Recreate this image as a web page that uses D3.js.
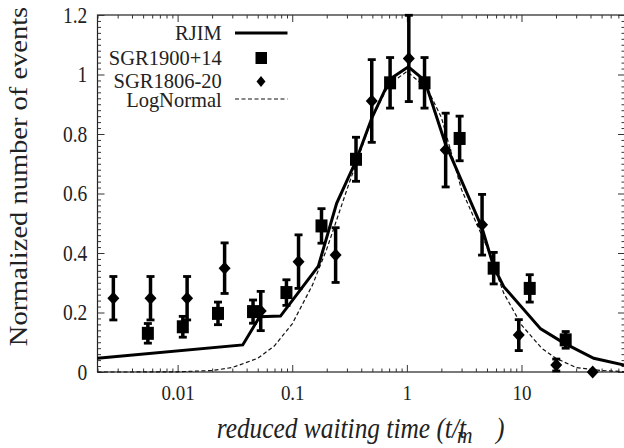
<!DOCTYPE html>
<html>
<head>
<meta charset="utf-8">
<script src="https://cdn.jsdelivr.net/npm/d3@7/dist/d3.min.js"></script>
<style>
  html, body { margin: 0; padding: 0; background: #fff; }
  svg { display: block; }
  text { font-family: "Liberation Serif", "Times New Roman", "DejaVu Serif"; fill: #222; }
</style>
</head>
<body>
<svg id="chart" width="624" height="448"></svg>
<script>
// ---------------- data ----------------
const sgr1900X   = [0.0055, 0.0111, 0.0225, 0.0455, 0.089, 0.180, 0.36, 0.714, 1.426, 2.886, 5.72, 11.8, 24.3];
const sgr1900Y   = [0.130, 0.152, 0.197, 0.203, 0.267, 0.491, 0.715, 0.972, 0.972, 0.785, 0.349, 0.281, 0.108];
const sgr1900Err = [0.033, 0.035, 0.038, 0.039, 0.043, 0.058, 0.074, 0.085, 0.085, 0.075, 0.053, 0.046, 0.028];

const sgr1806X   = [0.00275, 0.0058, 0.0121, 0.0257, 0.0531, 0.1135, 0.239, 0.494, 1.04, 2.18, 4.53, 9.47, 20.1, 41.8];
const sgr1806Y   = [0.248, 0.248, 0.248, 0.349, 0.205, 0.371, 0.393, 0.911, 1.054, 0.746, 0.495, 0.124, 0.0235, 0.0];
const sgr1806Err = [0.073, 0.073, 0.073, 0.085, 0.066, 0.090, 0.092, 0.139, 0.145, 0.124, 0.102, 0.052, 0.02, 0];

const rjimX = [0.002, 0.037, 0.052, 0.079, 0.169, 0.244, 0.36, 0.494, 0.714, 1.03, 1.43, 2.16, 4.53, 5.72, 7.0, 14.7, 23.3, 42.7, 80];
const rjimY = [0.046, 0.091, 0.186, 0.188, 0.356, 0.567, 0.71, 0.853, 0.985, 1.026, 0.98, 0.769, 0.484, 0.354, 0.287, 0.145, 0.098, 0.046, 0.023];

const logNormX = [0.002, 0.005, 0.01, 0.02, 0.03, 0.05, 0.07, 0.1, 0.15, 0.2, 0.3, 0.5, 0.7, 1, 1.5, 2, 3, 5, 7, 10, 15, 20, 30, 50, 80];
const logNormY = [0, 0.0001, 0.0007, 0.005, 0.015, 0.046, 0.088, 0.162, 0.292, 0.413, 0.613, 0.856, 0.967, 1.01, 0.954, 0.856, 0.613, 0.42, 0.265, 0.158, 0.080, 0.046, 0.015, 0.005, 0.001];

const xTickValues = [0.01, 0.1, 1, 10];
const xTickLabels = ["0.01", "0.1", "1", "10"];
const yTickValues = [0, 0.2, 0.4, 0.6, 0.8, 1, 1.2];
const yTickLabels = ["0", "0.2", "0.4", "0.6", "0.8", "1", "1.2"];

const seriesNames = ["RJIM", "SGR1900+14", "SGR1806-20", "LogNormal"];
const xTitle = "reduced waiting time (t/t";
const xTitleSub = "m";
const yTitle = "Normalized number of events";

(function draw() {
// ---------------- layout ----------------
const pLeft = 97.5, pRight = 625, pTop = 15, pBottom = 372;
const VS = 1.14; // vertical stretch of glyphs in the reference
const FONT = "Liberation Serif, Times New Roman, DejaVu Serif";

const svg = d3.select("#chart");
const x = d3.scaleLog().domain([0.002, 80]).range([pLeft, pRight]);
const y = d3.scaleLinear().domain([0, 1.2]).range([pBottom, pTop]);

// frame
svg.append("rect").attr("x", pLeft).attr("y", pTop)
  .attr("width", pRight - pLeft).attr("height", pBottom - pTop)
  .attr("fill", "none").attr("stroke", "#222").attr("stroke-width", 1.2);

const xMinor = x.ticks().filter(v => !xTickValues.some(t => Math.abs(t - v) / t < 1e-6));
const yMinor = y.ticks(60).filter(v => !yTickValues.some(t => Math.abs(t - v) < 1e-6));

function styleAxis(g) {
  g.attr("font-family", FONT);
  g.select(".domain").remove();
  g.selectAll("line").attr("stroke", "#333").attr("stroke-width", 1);
}

// bottom axis
const gxb = svg.append("g").attr("transform", `translate(0,${pBottom})`)
  .call(d3.axisBottom(x).tickValues(xTickValues).tickFormat((d, i) => xTickLabels[i]).tickSizeInner(-7).tickSizeOuter(0));
styleAxis(gxb);
gxb.selectAll("text").attr("y", 0).attr("dy", 0)
  .attr("transform", `translate(0,27.5) scale(1,${VS})`)
  .attr("font-size", 19).attr("fill", "#222");
svg.append("g").attr("transform", `translate(0,${pBottom})`)
  .call(d3.axisBottom(x).tickValues(xMinor).tickFormat("").tickSizeInner(-3.5).tickSizeOuter(0)).call(styleAxis);

// top axis
svg.append("g").attr("transform", `translate(0,${pTop})`)
  .call(d3.axisTop(x).tickValues(xTickValues).tickFormat("").tickSizeInner(-7).tickSizeOuter(0)).call(styleAxis);
svg.append("g").attr("transform", `translate(0,${pTop})`)
  .call(d3.axisTop(x).tickValues(xMinor).tickFormat("").tickSizeInner(-3.5).tickSizeOuter(0)).call(styleAxis);

// left axis
const gyl = svg.append("g").attr("transform", `translate(${pLeft},0)`)
  .call(d3.axisLeft(y).tickValues(yTickValues).tickFormat((d, i) => yTickLabels[i]).tickSizeInner(-7).tickSizeOuter(0));
styleAxis(gyl);
gyl.selectAll("text").attr("x", 0).attr("dy", 0)
  .attr("transform", `translate(-10.2,7.4) scale(1,${VS})`)
  .attr("font-size", 19.5).attr("fill", "#222");
svg.append("g").attr("transform", `translate(${pLeft},0)`)
  .call(d3.axisLeft(y).tickValues(yMinor).tickFormat("").tickSizeInner(-3.5).tickSizeOuter(0)).call(styleAxis);

// right axis
svg.append("g").attr("transform", `translate(${pRight},0)`)
  .call(d3.axisRight(y).tickValues(yTickValues).tickFormat("").tickSizeInner(-7).tickSizeOuter(0)).call(styleAxis);
svg.append("g").attr("transform", `translate(${pRight},0)`)
  .call(d3.axisRight(y).tickValues(yMinor).tickFormat("").tickSizeInner(-3.5).tickSizeOuter(0)).call(styleAxis);

// ---------------- curves ----------------
const line = d3.line().x(d => x(d[0])).y(d => y(d[1]));
svg.append("path").datum(logNormX.map((v, i) => [v, logNormY[i]]))
  .attr("d", line).attr("fill", "none").attr("stroke", "#111")
  .attr("stroke-width", 1.2).attr("stroke-dasharray", "4,2.5");
svg.append("path").datum(rjimX.map((v, i) => [v, rjimY[i]]))
  .attr("d", line).attr("fill", "none").attr("stroke", "#000")
  .attr("stroke-width", 3).attr("stroke-linejoin", "miter");

// ---------------- error bars & markers ----------------
function errorBars(xs, ys, es) {
  const g = svg.append("g");
  xs.forEach((v, i) => {
    if (!es[i]) return;
    const cx = x(v), y1 = y(ys[i] + es[i]), y2 = y(ys[i] - es[i]);
    g.append("line").attr("x1", cx).attr("x2", cx).attr("y1", y1).attr("y2", y2)
      .attr("stroke", "#000").attr("stroke-width", 3.5);
    [y1, y2].forEach(yy => g.append("line").attr("x1", cx - 4).attr("x2", cx + 4)
      .attr("y1", yy).attr("y2", yy).attr("stroke", "#000").attr("stroke-width", 2.8));
  });
}
errorBars(sgr1900X, sgr1900Y, sgr1900Err);
errorBars(sgr1806X, sgr1806Y, sgr1806Err);

const diamond = (cx, cy, hw, hh) => `M${cx},${cy - hh}L${cx + hw},${cy}L${cx},${cy + hh}L${cx - hw},${cy}Z`;

svg.append("g").selectAll("rect").data(sgr1900X).join("rect")
  .attr("x", (d) => x(d) - 6).attr("y", (d, i) => y(sgr1900Y[i]) - 6.5)
  .attr("width", 12).attr("height", 13).attr("fill", "#000");
svg.append("g").selectAll("path").data(sgr1806X).join("path")
  .attr("d", (d, i) => diamond(x(d), y(sgr1806Y[i]), 6, 6.5)).attr("fill", "#000");

// ---------------- legend ----------------
const legRows = [33, 58, 81.5, 100.5];
const lg = svg.append("g");
seriesNames.forEach((name, i) => {
  lg.append("text").attr("text-anchor", "end")
    .attr("transform", `translate(221.7,${legRows[i] + 6.6}) scale(1,1.02)`)
    .attr("font-size", 20.5).text(name);
});
lg.append("line").attr("x1", 235).attr("x2", 287.5).attr("y1", legRows[0]).attr("y2", legRows[0])
  .attr("stroke", "#000").attr("stroke-width", 3);
lg.append("rect").attr("x", 255.5).attr("y", legRows[1] - 6).attr("width", 11.5).attr("height", 12).attr("fill", "#000");
lg.append("path").attr("d", diamond(261, legRows[2], 4.5, 5.5)).attr("fill", "#000");
lg.append("line").attr("x1", 235).attr("x2", 287.5).attr("y1", legRows[3] - 1.5).attr("y2", legRows[3] - 1.5)
  .attr("stroke", "#111").attr("stroke-width", 1.2).attr("stroke-dasharray", "4,2.5");

// ---------------- axis titles ----------------
svg.append("text").attr("text-anchor", "middle")
  .attr("transform", `translate(27,176.5) scale(1,${VS}) rotate(-90)`)
  .attr("font-size", 25).text(yTitle);

svg.append("text").attr("font-style", "italic")
  .attr("transform", `translate(216.7,438) scale(1,${VS})`)
  .attr("font-size", 25.4).text(xTitle);
svg.append("text").attr("font-style", "italic")
  .attr("transform", `translate(457,442.5) scale(1,1.05)`)
  .attr("font-size", 21.5).text(xTitleSub);
svg.append("text").attr("font-style", "italic")
  .attr("transform", `translate(496,438) scale(1,${VS})`)
  .attr("font-size", 25.4).text(")");
})();
</script>
</body>
</html>
